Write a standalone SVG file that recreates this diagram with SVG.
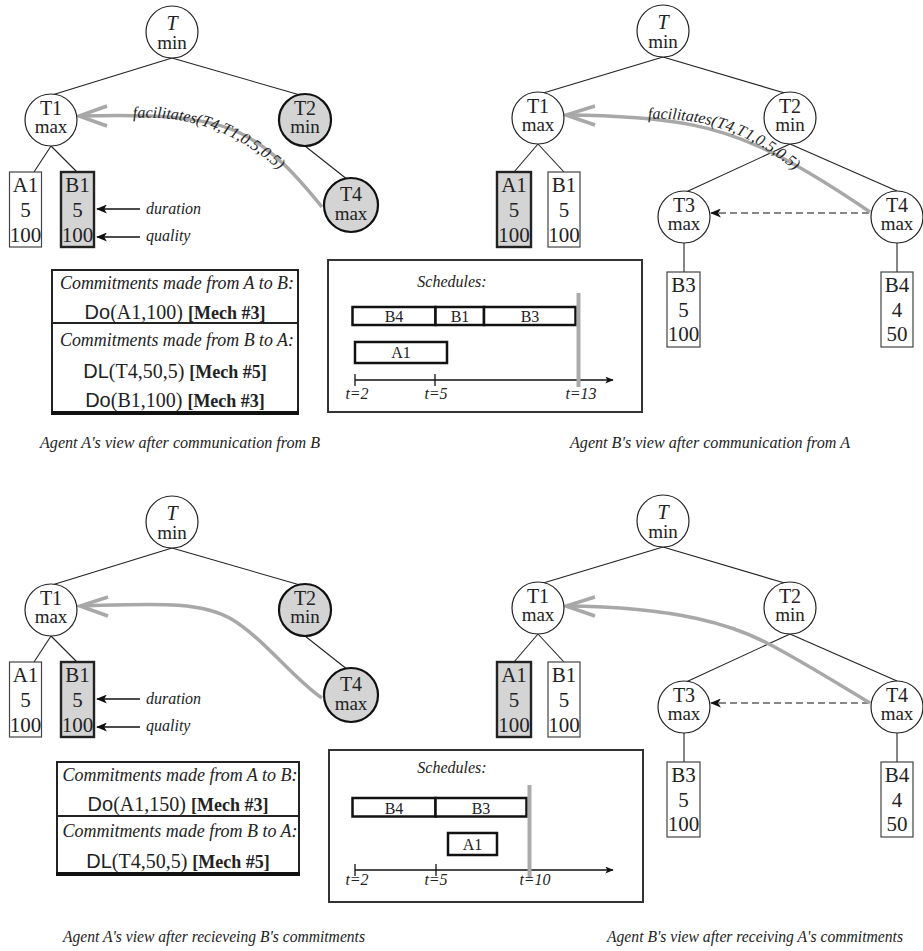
<svg xmlns="http://www.w3.org/2000/svg" width="923" height="951" viewBox="0 0 923 951">
<defs>
<style>
.n{fill:#fff;stroke:#222;stroke-width:1.2}
.ng{fill:#d4d4d4;stroke:#111;stroke-width:2.2}
.e{stroke:#222;stroke-width:1.1;fill:none}
.t{font-family:"Liberation Serif",serif;font-size:20px;fill:#222;text-anchor:middle}
.m{font-size:19px}
.bt{font-family:"Liberation Serif",serif;font-size:21px;fill:#222;text-anchor:middle}
.bx{fill:#fff;stroke:#444;stroke-width:1.2}
.bxg{fill:#d4d4d4;stroke:#222;stroke-width:2.4}
.fac{fill:none;stroke:#a8a8a8;stroke-width:3.5}
.it{font-family:"Liberation Serif",serif;font-style:italic;fill:#222}
.sans{font-family:"Liberation Sans",sans-serif}
.mech{font-weight:bold;font-size:18px}
.cbox{fill:#fff;stroke:#222;stroke-width:2}
.sbox{fill:#fff;stroke:#333;stroke-width:2}
.bar{fill:#fff;stroke:#111;stroke-width:2.5}
.st{font-family:"Liberation Serif",serif;font-size:16px;fill:#222;text-anchor:middle}
.gl{stroke:#aaa;stroke-width:4}
</style>
<marker id="ah" viewBox="0 0 12 10" refX="11" refY="5" markerWidth="11" markerHeight="9" markerUnits="userSpaceOnUse" orient="auto"><path d="M0,0 L12,5 L0,10 L3,5 Z" fill="#111"/></marker>
<marker id="ahs" viewBox="0 0 12 10" refX="11" refY="5" markerWidth="9" markerHeight="7" markerUnits="userSpaceOnUse" orient="auto"><path d="M0,0 L12,5 L0,10 L3,5 Z" fill="#111"/></marker>
<path id="lblL" d="M133,118 C 185,115 238,128 292,182"/>
<path id="lblR" d="M648,119 C 700,117 752,130 808,182"/>
</defs>
<rect width="923" height="951" fill="#fff"/>

<!-- ================= TOP LEFT ================= -->
<g id="connectors-tl">
<line class="e" x1="172" y1="58" x2="52" y2="95"/>
<line class="e" x1="172" y1="58" x2="300" y2="95"/>
<line class="e" x1="305" y1="146" x2="348" y2="180"/>
<line class="e" x1="51" y1="146" x2="34" y2="172"/>
<line class="e" x1="51" y1="146" x2="77" y2="172"/>
<path class="fac" d="M322,207 C 300,180 275,150 240,133 S 150,114 79,116"/>
<polyline class="fac" points="107,106 79,116 107,126"/>
<line stroke="#111" stroke-width="1.6" x1="140" y1="209" x2="97" y2="209" marker-end="url(#ah)"/>
<line stroke="#111" stroke-width="1.6" x1="140" y1="237" x2="97" y2="237" marker-end="url(#ah)"/>
</g>
<text class="it" font-size="16"><textPath href="#lblL">facilitates(T4,T1,0.5,0.5)</textPath></text>
<text class="it" font-size="16" x="146" y="214">duration</text>
<text class="it" font-size="16" x="146" y="241">quality</text>

<g id="tl-T"><circle class="n" cx="172" cy="32" r="26"/><text class="t it" x="172" y="30" font-size="22">T</text><text class="t m" x="172" y="49">min</text></g>
<g id="tl-T1"><circle class="n" cx="51" cy="120" r="26"/><text class="t" x="51" y="115">T1</text><text class="t m" x="51" y="133">max</text></g>
<g id="tl-T2"><circle class="ng" cx="305" cy="120" r="26"/><text class="t" x="305" y="115">T2</text><text class="t m" x="305" y="133">min</text></g>
<g id="tl-T4"><circle class="ng" cx="351" cy="205" r="27"/><text class="t" x="351" y="201">T4</text><text class="t m" x="351" y="220">max</text></g>
<g id="tl-A1"><rect class="bx" x="9.5" y="172" width="32" height="75"/><text class="bt" x="25.5" y="192">A1</text><text class="bt" x="25.5" y="217">5</text><text class="bt" x="25.5" y="242">100</text></g>
<g id="tl-B1"><rect class="bxg" x="61" y="172" width="33" height="75"/><text class="bt" x="77.5" y="192">B1</text><text class="bt" x="77.5" y="217">5</text><text class="bt" x="77.5" y="242">100</text></g>

<g id="tl-commitments">
<rect class="cbox" x="52" y="270" width="246" height="144"/>
<line stroke="#222" stroke-width="2" x1="52" y1="323" x2="298" y2="323"/>
<line stroke="#111" stroke-width="4" x1="51" y1="413" x2="299" y2="413"/>
<text class="it" font-size="18" x="177" y="289" text-anchor="middle" textLength="234" lengthAdjust="spacingAndGlyphs">Commitments made from A to B:</text>
<text class="t" x="175" y="319" font-size="23"><tspan class="sans">Do</tspan>(A1,100) <tspan class="mech">[Mech #3]</tspan></text>
<text class="it" font-size="18" x="177" y="346" text-anchor="middle" textLength="234" lengthAdjust="spacingAndGlyphs">Commitments made from B to A:</text>
<text class="t" x="175" y="378" font-size="23"><tspan class="sans">DL</tspan>(T4,50,5) <tspan class="mech">[Mech #5]</tspan></text>
<text class="t" x="175" y="407" font-size="23"><tspan class="sans">Do</tspan>(B1,100) <tspan class="mech">[Mech #3]</tspan></text>
</g>

<g id="tl-schedule">
<rect class="sbox" x="328" y="260" width="314" height="152"/>
<text class="it" font-size="16" x="452" y="287" text-anchor="middle">Schedules:</text>
<rect class="bar" x="352.5" y="307" width="83" height="18"/>
<rect class="bar" x="435.5" y="307" width="48.5" height="18"/>
<rect class="bar" x="484" y="307" width="91.5" height="18"/>
<text class="st" x="394" y="322">B4</text><text class="st" x="460" y="322">B1</text><text class="st" x="530" y="322">B3</text>
<rect class="bar" x="355" y="342" width="92" height="21"/>
<text class="st" x="401" y="358">A1</text>
<line stroke="#111" stroke-width="1.3" x1="355" y1="380" x2="613" y2="380" marker-end="url(#ahs)"/>
<line stroke="#111" stroke-width="1.3" x1="355" y1="374" x2="355" y2="386"/>
<line stroke="#111" stroke-width="1.3" x1="435" y1="374" x2="435" y2="386"/>
<line class="gl" x1="578.5" y1="293" x2="578.5" y2="387"/>
<text class="it" font-size="16" x="357" y="399" text-anchor="middle">t=2</text>
<text class="it" font-size="16" x="436" y="399" text-anchor="middle">t=5</text>
<text class="it" font-size="16" x="581" y="399" text-anchor="middle">t=13</text>
</g>
<text class="it" font-size="16.5" x="180" y="448" text-anchor="middle" textLength="280" lengthAdjust="spacingAndGlyphs">Agent A's view after communication from B</text>

<!-- ================= TOP RIGHT ================= -->
<g id="connectors-tr">
<line class="e" x1="663" y1="57" x2="540" y2="94"/>
<line class="e" x1="663" y1="57" x2="788" y2="94"/>
<line class="e" x1="538" y1="144" x2="514" y2="172"/>
<line class="e" x1="538" y1="144" x2="564" y2="172"/>
<line class="e" x1="790" y1="144" x2="686" y2="192"/>
<line class="e" x1="790" y1="144" x2="897" y2="191"/>
<line class="e" x1="684" y1="243" x2="684" y2="272"/>
<line class="e" x1="897" y1="243" x2="897" y2="272"/>
<line stroke="#111" stroke-width="1.2" stroke-dasharray="7,4" x1="869" y1="213" x2="711" y2="213" marker-end="url(#ah)"/>
<path class="fac" d="M870,212 C 845,195 800,165 760,147 S 680,116 566,115"/>
<polyline class="fac" points="595,106 566,115 595,125"/>
</g>
<text class="it" font-size="16"><textPath href="#lblR">facilitates(T4,T1,0.5,0.5)</textPath></text>

<g id="tr-T"><circle class="n" cx="663" cy="31" r="26"/><text class="t it" x="663" y="29" font-size="22">T</text><text class="t m" x="663" y="48">min</text></g>
<g id="tr-T1"><circle class="n" cx="538" cy="118" r="26"/><text class="t" x="538" y="113">T1</text><text class="t m" x="538" y="131">max</text></g>
<g id="tr-T2"><circle class="n" cx="790" cy="118" r="26"/><text class="t" x="790" y="113">T2</text><text class="t m" x="790" y="131">min</text></g>
<g id="tr-T3"><circle class="n" cx="684" cy="217" r="26"/><text class="t" x="684" y="212">T3</text><text class="t m" x="684" y="230">max</text></g>
<g id="tr-T4"><circle class="n" cx="897" cy="217" r="26"/><text class="t" x="897" y="212">T4</text><text class="t m" x="897" y="230">max</text></g>
<g id="tr-A1"><rect class="bxg" x="497" y="172" width="34" height="75"/><text class="bt" x="514" y="192">A1</text><text class="bt" x="514" y="217">5</text><text class="bt" x="514" y="242">100</text></g>
<g id="tr-B1"><rect class="bx" x="548" y="172" width="32" height="75"/><text class="bt" x="564" y="192">B1</text><text class="bt" x="564" y="217">5</text><text class="bt" x="564" y="242">100</text></g>
<g id="tr-B3"><rect class="bx" x="667" y="272" width="33" height="75"/><text class="bt" x="683.5" y="292">B3</text><text class="bt" x="683.5" y="317">5</text><text class="bt" x="683.5" y="341">100</text></g>
<g id="tr-B4"><rect class="bx" x="881" y="272" width="32" height="75"/><text class="bt" x="897" y="292">B4</text><text class="bt" x="897" y="317">4</text><text class="bt" x="897" y="341">50</text></g>
<text class="it" font-size="16.5" x="710" y="448" text-anchor="middle" textLength="280" lengthAdjust="spacingAndGlyphs">Agent B's view after communication from A</text>

<!-- ================= BOTTOM LEFT ================= -->
<g transform="translate(0,490)">
<g id="connectors-bl">
<line class="e" x1="172" y1="58" x2="52" y2="95"/>
<line class="e" x1="172" y1="58" x2="300" y2="95"/>
<line class="e" x1="305" y1="146" x2="348" y2="180"/>
<line class="e" x1="51" y1="146" x2="34" y2="172"/>
<line class="e" x1="51" y1="146" x2="77" y2="172"/>
<path class="fac" d="M322,208 C 295,190 265,150 233,130 S 150,114 80,116"/>
<polyline class="fac" points="108,107 80,116 108,126"/>
<line stroke="#111" stroke-width="1.6" x1="140" y1="209" x2="97" y2="209" marker-end="url(#ah)"/>
<line stroke="#111" stroke-width="1.6" x1="140" y1="237" x2="97" y2="237" marker-end="url(#ah)"/>
</g>
<text class="it" font-size="16" x="146" y="214">duration</text>
<text class="it" font-size="16" x="146" y="241">quality</text>
<g id="bl-T"><circle class="n" cx="172" cy="32" r="26"/><text class="t it" x="172" y="30" font-size="22">T</text><text class="t m" x="172" y="49">min</text></g>
<g id="bl-T1"><circle class="n" cx="51" cy="120" r="26"/><text class="t" x="51" y="115">T1</text><text class="t m" x="51" y="133">max</text></g>
<g id="bl-T2"><circle class="ng" cx="305" cy="120" r="26"/><text class="t" x="305" y="115">T2</text><text class="t m" x="305" y="133">min</text></g>
<g id="bl-T4"><circle class="ng" cx="351" cy="205" r="27"/><text class="t" x="351" y="201">T4</text><text class="t m" x="351" y="220">max</text></g>
<g id="bl-A1"><rect class="bx" x="9.5" y="172" width="32" height="75"/><text class="bt" x="25.5" y="192">A1</text><text class="bt" x="25.5" y="217">5</text><text class="bt" x="25.5" y="242">100</text></g>
<g id="bl-B1"><rect class="bxg" x="61" y="172" width="33" height="75"/><text class="bt" x="77.5" y="192">B1</text><text class="bt" x="77.5" y="217">5</text><text class="bt" x="77.5" y="242">100</text></g>
</g>

<g id="bl-commitments">
<rect class="cbox" x="57" y="762" width="242" height="112"/>
<line stroke="#222" stroke-width="2" x1="57" y1="816" x2="299" y2="816"/>
<line stroke="#111" stroke-width="4" x1="56" y1="874" x2="300" y2="874"/>
<text class="it" font-size="18" x="180" y="781" text-anchor="middle" textLength="235" lengthAdjust="spacingAndGlyphs">Commitments made from A to B:</text>
<text class="t" x="178" y="811" font-size="23"><tspan class="sans">Do</tspan>(A1,150) <tspan class="mech">[Mech #3]</tspan></text>
<text class="it" font-size="18" x="180" y="837" text-anchor="middle" textLength="235" lengthAdjust="spacingAndGlyphs">Commitments made from B to A:</text>
<text class="t" x="178" y="868" font-size="23"><tspan class="sans">DL</tspan>(T4,50,5) <tspan class="mech">[Mech #5]</tspan></text>
</g>

<g id="bl-schedule">
<rect class="sbox" x="329" y="750" width="314" height="152"/>
<text class="it" font-size="16" x="452" y="773" text-anchor="middle">Schedules:</text>
<rect class="bar" x="352.5" y="798" width="83" height="18.5"/>
<rect class="bar" x="435.5" y="798" width="91" height="18.5"/>
<text class="st" x="394" y="813.5">B4</text><text class="st" x="481" y="813.5">B3</text>
<rect class="bar" x="448" y="833" width="49" height="22"/>
<text class="st" x="472.5" y="850">A1</text>
<line stroke="#111" stroke-width="1.3" x1="355" y1="870" x2="613" y2="870" marker-end="url(#ahs)"/>
<line stroke="#111" stroke-width="1.3" x1="355" y1="864" x2="355" y2="876"/>
<line stroke="#111" stroke-width="1.3" x1="436" y1="864" x2="436" y2="876"/>
<line class="gl" x1="529.5" y1="785" x2="529.5" y2="878"/>
<text class="it" font-size="16" x="357" y="885" text-anchor="middle">t=2</text>
<text class="it" font-size="16" x="436" y="885" text-anchor="middle">t=5</text>
<text class="it" font-size="16" x="535" y="885" text-anchor="middle">t=10</text>
</g>
<text class="it" font-size="16.5" x="63" y="942" textLength="302" lengthAdjust="spacingAndGlyphs">Agent A's view after recieveing B's commitments</text>

<!-- ================= BOTTOM RIGHT ================= -->
<g transform="translate(0,490)">
<g id="connectors-br">
<line class="e" x1="663" y1="57" x2="540" y2="94"/>
<line class="e" x1="663" y1="57" x2="788" y2="94"/>
<line class="e" x1="538" y1="144" x2="514" y2="172"/>
<line class="e" x1="538" y1="144" x2="564" y2="172"/>
<line class="e" x1="790" y1="144" x2="686" y2="192"/>
<line class="e" x1="790" y1="144" x2="897" y2="191"/>
<line class="e" x1="684" y1="243" x2="684" y2="272"/>
<line class="e" x1="897" y1="243" x2="897" y2="272"/>
<line stroke="#111" stroke-width="1.2" stroke-dasharray="7,4" x1="869" y1="213" x2="711" y2="213" marker-end="url(#ah)"/>
<path class="fac" d="M870,213 C 840,195 800,170 767,153 S 680,117 566,116"/>
<polyline class="fac" points="595,107 566,116 595,126"/>
</g>
<g id="br-T"><circle class="n" cx="663" cy="31" r="26"/><text class="t it" x="663" y="29" font-size="22">T</text><text class="t m" x="663" y="48">min</text></g>
<g id="br-T1"><circle class="n" cx="538" cy="118" r="26"/><text class="t" x="538" y="113">T1</text><text class="t m" x="538" y="131">max</text></g>
<g id="br-T2"><circle class="n" cx="790" cy="118" r="26"/><text class="t" x="790" y="113">T2</text><text class="t m" x="790" y="131">min</text></g>
<g id="br-T3"><circle class="n" cx="684" cy="217" r="26"/><text class="t" x="684" y="212">T3</text><text class="t m" x="684" y="230">max</text></g>
<g id="br-T4"><circle class="n" cx="897" cy="217" r="26"/><text class="t" x="897" y="212">T4</text><text class="t m" x="897" y="230">max</text></g>
<g id="br-A1"><rect class="bxg" x="497" y="172" width="34" height="75"/><text class="bt" x="514" y="192">A1</text><text class="bt" x="514" y="217">5</text><text class="bt" x="514" y="242">100</text></g>
<g id="br-B1"><rect class="bx" x="548" y="172" width="32" height="75"/><text class="bt" x="564" y="192">B1</text><text class="bt" x="564" y="217">5</text><text class="bt" x="564" y="242">100</text></g>
<g id="br-B3"><rect class="bx" x="667" y="272" width="33" height="75"/><text class="bt" x="683.5" y="292">B3</text><text class="bt" x="683.5" y="317">5</text><text class="bt" x="683.5" y="341">100</text></g>
<g id="br-B4"><rect class="bx" x="881" y="272" width="32" height="75"/><text class="bt" x="897" y="292">B4</text><text class="bt" x="897" y="317">4</text><text class="bt" x="897" y="341">50</text></g>
</g>
<text class="it" font-size="16.5" x="607" y="942" textLength="296" lengthAdjust="spacingAndGlyphs">Agent B's view after receiving A's commitments</text>
</svg>
